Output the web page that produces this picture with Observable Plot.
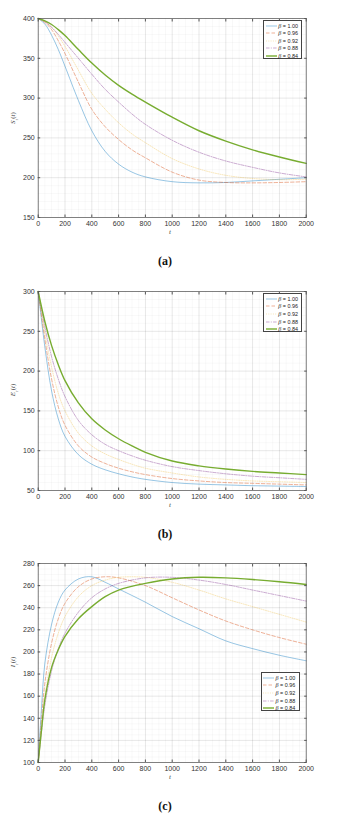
<!DOCTYPE html>
<html><head><meta charset="utf-8">
<script src="https://cdn.jsdelivr.net/npm/d3@7"></script>
<script src="https://cdn.jsdelivr.net/npm/@observablehq/plot@0.6"></script>
<style>
body{margin:0;background:#fff;font-family:"Liberation Sans",Arial,sans-serif}
#page{position:relative;width:354px;height:815px;overflow:hidden}
.panel{position:absolute;left:0;width:354px;height:272px}
.panel svg{position:absolute;left:0;top:0}
.cap{position:absolute;width:40px;text-align:center;font-family:"Liberation Serif","Times New Roman",serif;font-weight:bold;font-size:12px;color:#111}
.ylab{position:absolute;font-family:"Liberation Serif",serif;font-size:7px;color:#444;transform:translate(-50%,-50%) rotate(-90deg);white-space:nowrap}
.xlab{position:absolute;font-family:"Liberation Serif",serif;font-style:italic;font-size:7px;color:#444;transform:translate(-50%,-50%)}
.legend{position:absolute;border:0.8px solid #444;background:#fff;box-sizing:border-box}
.legend .row{position:absolute;left:0;height:7.75px;display:flex;align-items:center;font-size:5.4px;color:#222;white-space:nowrap}
.legend .row svg{position:static;margin-left:1.5px;margin-right:1.5px}
</style></head>
<body><div id="page"></div>
<script>
// ---- data ----
const betaLabels = ["1.00", "0.96", "0.92", "0.88", "0.84"];

const tSE = [0, 50, 100, 150, 200, 300, 400, 500, 600, 700, 800, 1000, 1200, 1400, 1600, 1800, 2000];
const S_100 = [400, 393, 379, 361, 340, 297, 259, 233, 217, 207, 201, 195, 193.5, 194, 196, 198, 200];
const S_096 = [400, 395, 386, 372, 356, 320, 286, 264, 248, 235, 225, 207, 197, 194, 193.5, 194, 195];
const S_092 = [400, 396, 389, 378, 365, 335, 306, 286, 269, 255, 244, 224, 211, 203, 199, 197.5, 198];
const S_088 = [400, 396, 389, 380, 370, 350, 330, 311, 295, 280, 267, 247, 232, 221, 213, 206, 201];
const S_084 = [400, 397, 392.5, 386, 378.5, 361, 344, 329, 316, 305, 295, 276, 259, 246, 235, 226, 218];

const E_100 = [300, 230, 175, 140, 118, 95, 83, 76, 71, 67, 64, 60, 58, 57, 56, 55.5, 55];
const E_096 = [300, 240, 190, 155, 132, 106, 92, 84, 78, 73.5, 70, 65, 62, 60, 59, 58, 57];
const E_092 = [300, 248, 205, 172, 150, 122, 106, 96, 89, 83, 78, 72, 67, 64, 62, 61, 60];
const E_088 = [300, 255, 218, 190, 168, 138, 120, 108, 100, 93.5, 88, 80, 75, 71, 68, 66, 64];
const E_084 = [300, 262, 232, 208, 188, 160, 140, 126, 115, 106, 98, 87, 81, 77, 74, 72, 70];

const tI = [0, 25, 50, 100, 150, 200, 300, 400, 500, 600, 800, 1000, 1200, 1400, 1600, 1800, 2000];
const I_100 = [100, 150, 190, 225, 245, 256, 266, 268, 263, 257, 245, 232, 221, 210, 203, 197, 192];
const I_096 = [100, 140, 172, 208, 230, 244, 259, 266, 268, 267, 260, 249, 238, 228, 220, 213, 207];
const I_092 = [100, 132, 160, 195, 217, 232, 250, 260, 265, 267.5, 267.5, 263, 256, 248, 241, 234, 227];
const I_088 = [100, 128, 152, 183, 203, 217, 236, 249, 257, 262, 267, 267.5, 265, 261, 256, 251, 246];
const I_084 = [100, 130, 157, 186, 202, 214, 230, 241, 250, 256, 262, 266, 267.5, 267, 265.5, 263.5, 261];

// ---- styles ----
const colors = ["#0072BD", "#D95319", "#EDB120", "#7E2F8E", "#77AC30"];
const opac = [0.45, 0.5, 0.35, 0.45, 1];
const dashes = [null, "3.5,2", "1,1.3", "3.5,1.3,1,1.3", null];
const widths = [0.9, 0.9, 0.9, 0.9, 1.4];

const xMajor = d3.range(0, 2001, 200);
const xMinor = d3.range(0, 2001, 50);

function makePanel(t, series, yDomain, yStep, yMinorStep) {
  const yMajor = d3.range(yDomain[0], yDomain[1] + 0.001, yStep);
  const yMinor = d3.range(yDomain[0], yDomain[1] + 0.001, yMinorStep);
  const lineMarks = series.map((vals, i) => Plot.line(vals.map((v, j) => ({t: t[j], v})), {
    x: "t", y: "v", stroke: colors[i], strokeOpacity: opac[i], strokeWidth: widths[i],
    strokeDasharray: dashes[i], curve: "catmull-rom"
  }));
  return Plot.plot({
    width: 354, height: 272,
    marginLeft: 37.7, marginRight: 48.3, marginTop: 18, marginBottom: 55,
    x: {domain: [0, 2000]},
    y: {domain: yDomain},
    style: {fontSize: "7px", fontFamily: "Liberation Sans, Arial, sans-serif", color: "#333", background: "transparent"},
    marks: [
      Plot.ruleX(xMinor, {stroke: "#000", strokeOpacity: 0.06, strokeWidth: 0.5}),
      Plot.ruleY(yMinor, {stroke: "#000", strokeOpacity: 0.06, strokeWidth: 0.5}),
      Plot.ruleX(xMajor, {stroke: "#000", strokeOpacity: 0.12, strokeWidth: 0.6}),
      Plot.ruleY(yMajor, {stroke: "#000", strokeOpacity: 0.12, strokeWidth: 0.6}),
      ...lineMarks,
      Plot.frame({stroke: "#555", strokeWidth: 0.7}),
      Plot.axisX({ticks: xMajor, tickSize: 0, tickPadding: 4, label: null, tickFormat: "d"}),
      Plot.axisY({ticks: yMajor, tickSize: 0, tickPadding: 3.5, label: null, tickFormat: "d"}),
      Plot.axisX({anchor: "bottom", ticks: xMajor, tickSize: -2.5, tickFormat: () => "", label: null, stroke: "#555"}),
      Plot.axisX({anchor: "top", ticks: xMajor, tickSize: -2.5, tickFormat: () => "", label: null, stroke: "#555"}),
      Plot.axisY({anchor: "left", ticks: yMajor, tickSize: -2.5, tickFormat: () => "", label: null, stroke: "#555"}),
      Plot.axisY({anchor: "right", ticks: yMajor, tickSize: -2.5, tickFormat: () => "", label: null, stroke: "#555"})
    ]
  });
}

function legend(left, top) {
  const L = document.createElement("div");
  L.className = "legend";
  L.style.left = left + "px"; L.style.top = top + "px";
  L.style.width = "39px"; L.style.height = "39px";
  betaLabels.forEach((b, i) => {
    const r = document.createElement("div");
    r.className = "row";
    r.style.top = (0.8 + i * 7.55) + "px";
    r.innerHTML = `<svg width="11" height="6"><line x1="0" x2="11" y1="3" y2="3" stroke="${colors[i]}" stroke-opacity="${opac[i]}" stroke-width="${widths[i]}" ${dashes[i] ? `stroke-dasharray="${dashes[i]}"` : ""}/></svg><span><i style="font-family:'Liberation Serif',serif;font-size:6px">β</i> = ${b}</span>`;
    L.appendChild(r);
  });
  return L;
}

const page = document.getElementById("page");
const panels = [
  {top: 0, t: tSE, s: [S_100, S_096, S_092, S_088, S_084], dom: [150, 400], step: 50, minor: 10, lab: '<i>S</i><sub style="font-size:5px">r</sub>(<i>t</i>)', cap: "(a)", leg: [263.3, 20]},
  {top: 272.7, t: tSE, s: [E_100, E_096, E_092, E_088, E_084], dom: [50, 300], step: 50, minor: 10, lab: '<i>E</i><sub style="font-size:5px">r</sub>(<i>t</i>)', cap: "(b)", leg: [263.3, 20.5]},
  {top: 544.7, t: tI, s: [I_100, I_096, I_092, I_088, I_084], dom: [100, 280], step: 20, minor: 5, lab: '<i>I</i><sub style="font-size:5px">r</sub>(<i>t</i>)', cap: "(c)", leg: [260.5, 127.5]}
];
panels.forEach(p => {
  const d = document.createElement("div");
  d.className = "panel"; d.style.top = p.top + "px";
  d.appendChild(makePanel(p.t, p.s, p.dom, p.step, p.minor));
  const yl = document.createElement("div");
  yl.className = "ylab"; yl.style.left = "14px"; yl.style.top = "117.5px"; yl.innerHTML = p.lab;
  d.appendChild(yl);
  const xl = document.createElement("div");
  xl.className = "xlab"; xl.style.left = "170px"; xl.style.top = "232px"; xl.textContent = "t";
  d.appendChild(xl);
  const c = document.createElement("div");
  c.className = "cap"; c.style.left = "145px"; c.style.top = "254px"; c.textContent = p.cap;
  d.appendChild(c);
  d.appendChild(legend(p.leg[0], p.leg[1]));
  page.appendChild(d);
});
</script></body></html>
